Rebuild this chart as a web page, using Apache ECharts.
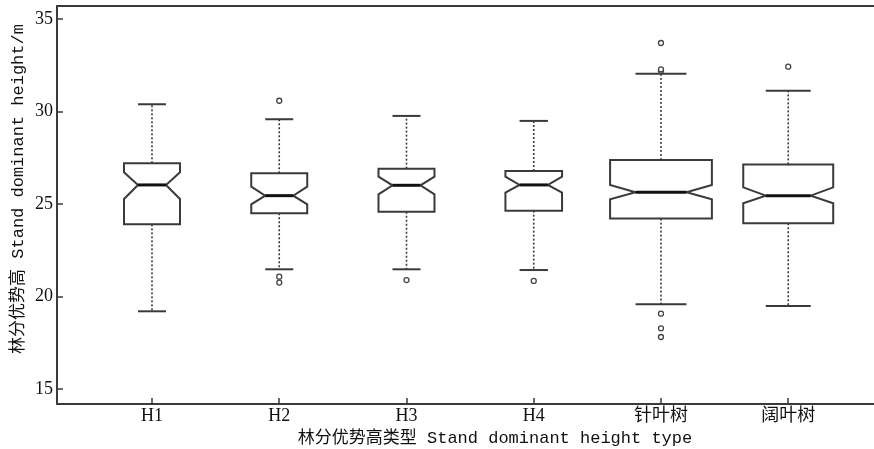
<!DOCTYPE html>
<html>
<head>
<meta charset="utf-8">
<script src="https://cdn.jsdelivr.net/npm/echarts@6/dist/echarts.min.js"></script>
<style>html,body{margin:0;padding:0;background:#fff;}#c{width:874px;height:449px;}</style>
</head>
<body>
<div id="c"></div>
<script>
// ---- data ----
var categories = ['H1', 'H2', 'H3', 'H4', '针叶树', '阔叶树'];
var whiskerLow  = [19.20, 21.47, 21.47, 21.43, 19.58, 19.49];
var q1          = [23.90, 24.50, 24.58, 24.64, 24.21, 23.96];
var median      = [26.03, 25.45, 26.01, 26.03, 25.63, 25.45];
var q3          = [27.20, 26.66, 26.91, 26.78, 27.38, 27.14];
var whiskerHigh = [30.39, 29.58, 29.76, 29.49, 32.04, 31.12];
var notchLow    = [25.27, 24.98, 25.52, 25.61, 25.25, 25.04];
var notchHigh   = [26.71, 25.94, 26.48, 26.48, 26.03, 25.90];
// outliers: [category index, value]
var outliers = [
  [1, 30.58], [1, 21.07], [1, 20.75],
  [2, 20.89],
  [3, 20.84],
  [4, 33.70], [4, 32.20], [4, 32.28], [4, 19.07], [4, 18.28], [4, 17.81],
  [5, 32.42]
];
var yTicks = [15, 20, 25, 30, 35];
// relative box widths (varwidth)
var boxWidth = [0.44, 0.44, 0.44, 0.445, 0.80, 0.707];

var lineColor = '#3a3a3a';
var fontFam = '"Liberation Mono", "Noto Sans CJK SC", monospace';
var serifFam = '"Liberation Serif", "Noto Sans CJK SC", serif';
var xMin = 0.2535, xMax = 6.674;

var boxData = categories.map(function (c, i) {
  return [i + 1, whiskerLow[i], q1[i], median[i], q3[i], whiskerHigh[i], notchLow[i], notchHigh[i], boxWidth[i]];
});
var outlierData = outliers.map(function (o) { return [o[0] + 1, o[1]]; });

function renderBox(params, api) {
  var x = api.value(0);
  var w = api.size([api.value(8), 0])[0];
  var hw = w / 2;
  var p = function (v) { return api.coord([x, v]); };
  var cx = p(0)[0];
  var yLo = p(api.value(1))[1], yQ1 = p(api.value(2))[1], yMed = p(api.value(3))[1],
      yQ3 = p(api.value(4))[1], yHi = p(api.value(5))[1], yNL = p(api.value(6))[1], yNH = p(api.value(7))[1];
  var xl = cx - hw, xr = cx + hw, xml = cx - hw / 2, xmr = cx + hw / 2;
  var dashStyle = { stroke: lineColor, lineWidth: 1.6, lineDash: [2, 2], fill: null };
  var solid = { stroke: lineColor, lineWidth: 2, fill: null };
  return {
    type: 'group',
    children: [
      { type: 'line', shape: { x1: cx, y1: yQ3, x2: cx, y2: yHi }, style: dashStyle },
      { type: 'line', shape: { x1: cx, y1: yQ1, x2: cx, y2: yLo }, style: dashStyle },
      { type: 'line', shape: { x1: cx - hw / 2, y1: yHi, x2: cx + hw / 2, y2: yHi }, style: solid },
      { type: 'line', shape: { x1: cx - hw / 2, y1: yLo, x2: cx + hw / 2, y2: yLo }, style: solid },
      { type: 'polygon', shape: { points: [
          [xl, yQ1], [xl, yNL], [xml, yMed], [xl, yNH], [xl, yQ3],
          [xr, yQ3], [xr, yNH], [xmr, yMed], [xr, yNL], [xr, yQ1]
        ] }, style: { stroke: lineColor, lineWidth: 2, fill: '#fff', lineJoin: 'miter' } },
      { type: 'line', shape: { x1: xml, y1: yMed, x2: xmr, y2: yMed }, style: { stroke: '#111', lineWidth: 3 } }
    ]
  };
}

var chart = echarts.init(document.getElementById('c'), null, { renderer: 'canvas' });
chart.setOption({
  animation: false,
  backgroundColor: '#fff',
  grid: { left: 57, right: 0, top: 6, bottom: 45, show: false },
  xAxis: [{
    type: 'value', min: xMin, max: xMax, position: 'bottom',
    splitLine: { show: false },
    axisLine: { show: true, onZero: false, lineStyle: { color: lineColor, width: 2 } },
    axisTick: { show: true, inside: true, length: 6, customValues: [1, 2, 3, 4, 5, 6], lineStyle: { color: lineColor, width: 1.5 } },
    axisLabel: {
      customValues: [1, 2, 3, 4, 5, 6],
      formatter: function (v) { return categories[Math.round(v) - 1] || ''; },
      color: '#111', fontFamily: serifFam, fontSize: 18, margin: 3
    }
  }, {
    type: 'value', min: xMin, max: xMax, position: 'top',
    splitLine: { show: false },
    axisLine: { show: true, onZero: false, lineStyle: { color: lineColor, width: 2 } },
    axisTick: { show: false }, axisLabel: { show: false }
  }],
  yAxis: {
    type: 'value', min: 14.19, max: 35.70,
    splitLine: { show: false },
    axisLine: { show: true, onZero: false, lineStyle: { color: lineColor, width: 2 } },
    axisTick: { show: true, inside: true, length: 6, customValues: yTicks, lineStyle: { color: lineColor, width: 1.5 } },
    axisLabel: { customValues: yTicks, color: '#111', fontFamily: serifFam, fontSize: 18, margin: 4 }
  },
  graphic: [
    { type: 'text', x: 495, y: 438, style: { text: '林分优势高类型 Stand dominant height type', fontFamily: fontFam, fontSize: 17, fill: '#111', align: 'center', verticalAlign: 'middle' } },
    { type: 'text', x: 18, y: 189, rotation: Math.PI / 2, style: { text: '林分优势高 Stand dominant height/m', fontFamily: fontFam, fontSize: 17, fill: '#111', align: 'center', verticalAlign: 'middle' } }
  ],
  series: [
    { type: 'custom', renderItem: renderBox, data: boxData, encode: { x: 0, y: [1, 2, 3, 4, 5] }, clip: false },
    { type: 'scatter', data: outlierData, symbol: 'circle', symbolSize: 5,
      itemStyle: { color: '#fff', borderColor: '#444', borderWidth: 1.3, opacity: 1 } }
  ]
});
</script>
</body>
</html>
